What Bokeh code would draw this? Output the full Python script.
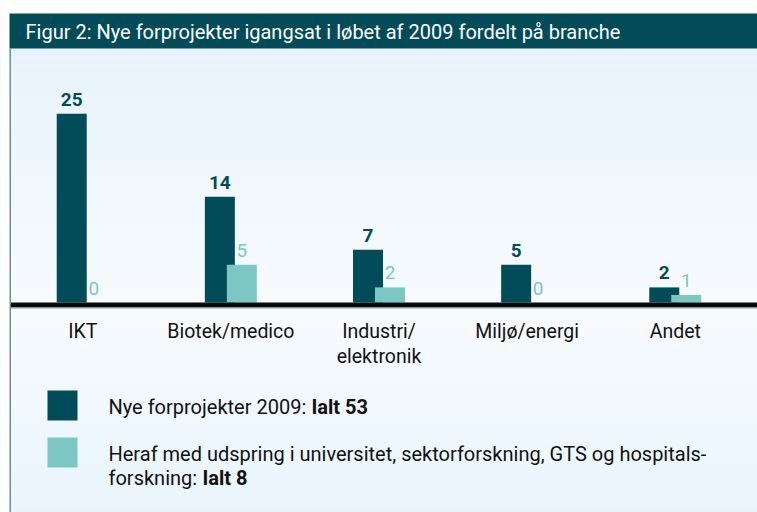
from bokeh.plotting import figure
from bokeh.models import FactorRange, Range1d, BoxAnnotation, Label, ColumnDataSource
from bokeh.transform import dodge
from bokeh.core.properties import value
from bokeh.embed import file_html
from bokeh.resources import INLINE

# ---------------- data ----------------
title_text = "Figur 2: Nye forprojekter igangsat i løbet af 2009 fordelt på branche"
categories = ["IKT", "Biotek/medico", "Industri/elektronik", "Miljø/energi", "Andet"]
category_labels = ["IKT", "Biotek/medico", "Industri/\nelektronik", "Miljø/energi", "Andet"]
new_projects = [25, 14, 7, 5, 2]
university_origin = [0, 5, 2, 0, 1]
legend_line1 = "Nye forprojekter 2009:"
legend_line2a = "Heraf med udspring i universitet, sektorforskning, GTS og hospitals-"
legend_line2b = "forskning:"
legend_totals = ["Ialt 53", "Ialt 8"]

# ---------------- layout helpers ----------------
W, H = 757, 512
BASE = 302.0      # screen y (from top) of the zero line
PX = 7.55         # pixels per unit


def yd(fy):
    """screen y (from top) -> data y"""
    return (BASE - fy) / PX


DARK = "#024b59"
LIGHT = "#7cc7c3"
FONT = "Roboto"
PAD = 0.022
UNIT = W / (len(categories) * (1 + PAD))
OFF = 11 / UNIT
BW = 30 / UNIT

p = figure(width=W, height=H,
           x_range=FactorRange(*categories, range_padding=PAD),
           y_range=Range1d(yd(H), yd(0)), output_backend="svg",
           toolbar_location=None, min_border=0,
           x_axis_location=None, y_axis_location=None)
p.grid.visible = False
p.outline_line_color = None
p.background_fill_color = "#f3f9fe"
p.border_fill_color = "white"


# gradient background
def mix(c0, c1, t):
    return "#%02x%02x%02x" % tuple(int(round(a + (b - a) * t)) for a, b in zip(c0, c1))


c_top, c_mid, c_bot = (231, 243, 252), (248, 251, 254), (233, 245, 254)
fy = 48
step = 8
while fy < H:
    yc = fy + step / 2
    if yc < 308:
        col = mix(c_top, c_mid, (yc - 48) / 260)
    else:
        col = mix(c_mid, c_bot, (yc - 308) / (H - 308))
    p.add_layout(BoxAnnotation(top=yd(fy), bottom=yd(min(fy + step, H)),
                               fill_color=col, fill_alpha=1, line_color=None,
                               level="underlay"))
    fy += step

# top white strip, title bar, left border
p.add_layout(BoxAnnotation(top=yd(0), bottom=yd(13), fill_color="white", fill_alpha=1,
                           line_color=None, level="underlay"))
p.add_layout(BoxAnnotation(left=0, right=9, left_units="screen", right_units="screen",
                           fill_color="white", fill_alpha=1, line_color=None, level="underlay"))
p.add_layout(BoxAnnotation(top=yd(13), bottom=yd(48), left=9, left_units="screen",
                           fill_color="#034b59", fill_alpha=1, line_color=None))
p.add_layout(BoxAnnotation(top=yd(48), bottom=yd(H), left=9, right=10.5,
                           left_units="screen", right_units="screen",
                           fill_color="#6f8e97", fill_alpha=1, line_color=None))
p.add_layout(Label(x=25, y=yd(31), x_units="screen", text=title_text,
                   text_baseline="middle", text_color="white",
                   text_font=FONT, text_font_size="20px"))

# bars
src = ColumnDataSource(dict(
    cat=categories, label=category_labels,
    dark=new_projects, light=university_origin,
    dark_txt=[str(v) for v in new_projects],
    light_txt=[str(v) for v in university_origin],
))
p.vbar(x=dodge("cat", -OFF, range=p.x_range), top="dark", bottom=0, width=BW,
       fill_color=DARK, line_color=None, source=src)
p.vbar(x=dodge("cat", OFF, range=p.x_range), top="light", bottom=0, width=BW,
       fill_color=LIGHT, line_color=None, source=src)

p.text(x=dodge("cat", -OFF, range=p.x_range), y="dark", text="dark_txt", source=src,
       text_align="center", text_baseline="bottom", y_offset=-8,
       text_font=value(FONT), text_font_style="bold", text_font_size="19px",
       text_color=DARK)
p.text(x=dodge("cat", OFF, range=p.x_range), y="light", text="light_txt", source=src,
       text_align="center", text_baseline="bottom", y_offset=-8,
       text_font=value(FONT), text_font_size="19px", text_color=LIGHT)

# baseline
p.add_layout(BoxAnnotation(top=yd(302), bottom=yd(306.5), left=10.5, left_units="screen",
                           fill_color="#0a0a0a", fill_alpha=1, line_color=None))
p.add_layout(BoxAnnotation(top=yd(306.5), bottom=yd(308), left=10.5, left_units="screen",
                           fill_color="#8c9ca0", fill_alpha=1, line_color=None))

# category labels
p.text(x="cat", y=0, text="label", source=src, text_align="center",
       text_baseline="top", y_offset=17, text_line_height=1.1,
       text_font=value(FONT), text_font_size="19.5px", text_color="#111111")

# legend
FS = 20
p.add_layout(BoxAnnotation(left=47, right=77, left_units="screen", right_units="screen",
                           top=yd(390), bottom=yd(420), fill_color=DARK, fill_alpha=1,
                           line_color=None))
p.add_layout(BoxAnnotation(left=47, right=77, left_units="screen", right_units="screen",
                           top=yd(437), bottom=yd(467), fill_color=LIGHT, fill_alpha=1,
                           line_color=None))
for txt, x, y, bold in [(legend_line1, 108, 406, False),
                        (legend_totals[0], 311, 406, True),
                        (legend_line2a, 108, 453, False),
                        (legend_line2b, 108, 477, False),
                        (legend_totals[1], 202, 477, True)]:
    p.add_layout(Label(x=x, y=yd(y), x_units="screen", text=txt,
                       text_baseline="middle", text_color="#111111",
                       text_font=FONT, text_font_size=f"{FS}px",
                       text_font_style="bold" if bold else "normal"))

open("out.html", "w").write(file_html(p, INLINE))
